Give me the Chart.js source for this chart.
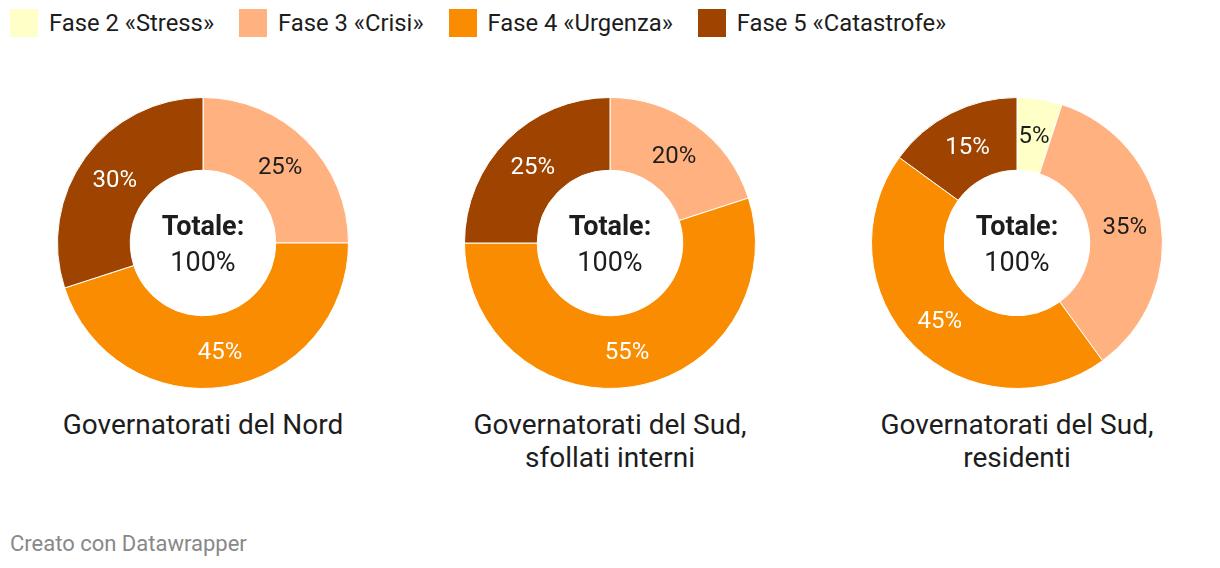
<!DOCTYPE html>
<html>
<head>
<meta charset="utf-8">
<script src="https://cdn.jsdelivr.net/npm/chart.js@4.4.0/dist/chart.umd.min.js"></script>
<style>
  body { margin: 0; background: #fff; font-family: Roboto, sans-serif; color: #1d1d1d; }
  #wrap { position: relative; width: 1220px; height: 568px; }
  .legend { position: absolute; top: 8px; left: 10px; display: flex; font-size: 23.8px; line-height: 30px; }
  .legend .item { display: flex; align-items: center; margin-right: 25px; }
  .legend .sw { width: 28px; height: 28px; margin-right: 11px; }
  .donut { position: absolute; top: 97px; width: 292px; height: 292px; }
  .title { position: absolute; top: 408px; width: 400px; text-align: center; font-size: 28px; line-height: 33px; }
  .footer { position: absolute; left: 10px; top: 531px; font-size: 22px; color: #888; }
</style>
</head>
<body>
<div id="wrap">
  <div class="legend" id="legend"></div>
  <div class="donut" style="left:57px"><canvas id="c0"></canvas></div>
  <div class="donut" style="left:464px"><canvas id="c1"></canvas></div>
  <div class="donut" style="left:871px"><canvas id="c2"></canvas></div>
  <div class="title" style="left:3px">Governatorati del Nord</div>
  <div class="title" style="left:410px">Governatorati del Sud,<br>sfollati interni</div>
  <div class="title" style="left:817px">Governatorati del Sud,<br>residenti</div>
  <div class="footer">Creato con Datawrapper</div>
</div>
<script>
const phases = ['Fase 2 «Stress»', 'Fase 3 «Crisi»', 'Fase 4 «Urgenza»', 'Fase 5 «Catastrofe»'];
const colors = ['#ffffc8', '#ffb27f', '#f98c00', '#9f4400'];
const labelColors = ['#1d1d1d', '#1d1d1d', '#ffffff', '#ffffff'];

const nord = [0, 25, 45, 30];
const sudSfollati = [0, 20, 55, 25];
const sudResidenti = [5, 35, 45, 15];

const legend = document.getElementById('legend');
phases.forEach((p, i) => {
  const item = document.createElement('div');
  item.className = 'item';
  item.innerHTML = `<span class="sw" style="background:${colors[i]}"></span><span>${p}</span>`;
  legend.appendChild(item);
});

const sliceLabels = {
  id: 'sliceLabels',
  afterDatasetsDraw(chart) {
    const ctx = chart.ctx;
    const meta = chart.getDatasetMeta(0);
    const data = chart.data.datasets[0].data;
    ctx.save();
    ctx.font = '24px Roboto';
    ctx.textAlign = 'center';
    ctx.textBaseline = 'middle';
    meta.data.forEach((arc, i) => {
      if (!data[i]) return;
      const mid = (arc.startAngle + arc.endAngle) / 2;
      const r = (arc.innerRadius + arc.outerRadius) / 2;
      ctx.fillStyle = labelColors[i];
      ctx.fillText(data[i] + '%', arc.x + Math.cos(mid) * r, arc.y + Math.sin(mid) * r + 2);
    });
    const total = data.reduce((a, b) => a + b, 0);
    const cx = meta.data[0].x, cy = meta.data[0].y;
    ctx.fillStyle = '#1d1d1d';
    ctx.font = 'bold 27px Roboto';
    ctx.fillText('Totale:', cx, cy - 15);
    ctx.font = '27px Roboto';
    ctx.fillText(total + '%', cx, cy + 21);
    ctx.restore();
  }
};

function makeDonut(id, values) {
  new Chart(document.getElementById(id), {
    type: 'doughnut',
    data: {
      labels: phases,
      datasets: [{
        data: values,
        backgroundColor: colors,
        borderColor: '#ffffff',
        borderWidth: 1,
        hoverOffset: 0
      }]
    },
    options: {
      responsive: true,
      maintainAspectRatio: false,
      animation: false,
      cutout: '50%',
      plugins: { legend: { display: false }, tooltip: { enabled: false } }
    },
    plugins: [sliceLabels]
  });
}

makeDonut('c0', nord);
makeDonut('c1', sudSfollati);
makeDonut('c2', sudResidenti);
</script>
</body>
</html>
